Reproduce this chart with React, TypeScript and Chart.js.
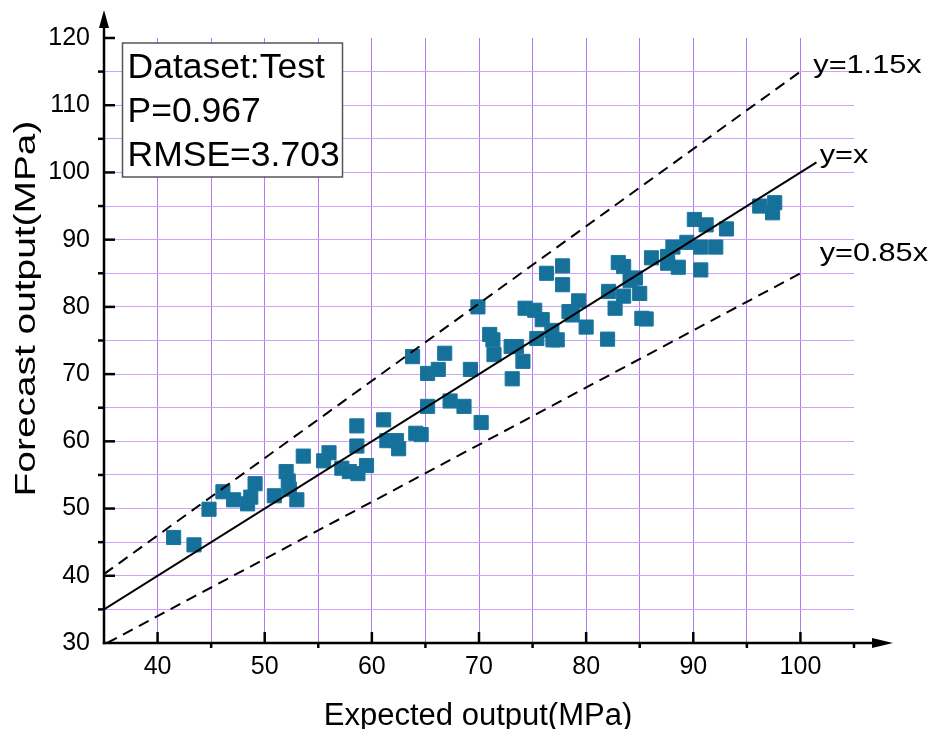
import React, { useEffect, useRef } from 'react';
import { Chart, registerables } from 'chart.js';

Chart.register(...registerables);

const FONT = '"Liberation Sans", Arial, sans-serif';

// Expected (x) and forecast (y) values of the test set
const expected = [
  41.5, 43.4, 44.8, 46.1, 47.1, 48.4, 48.7, 49.1, 50.9, 52.0,
  52.2, 52.3, 53.0, 53.6, 55.5, 56.0, 57.2, 57.9, 58.7, 59.5,
  58.6, 58.6, 61.1, 61.4, 62.3, 62.5, 63.8, 64.1, 64.6, 65.2,
  66.2, 65.2, 66.8, 67.3, 68.6, 69.2, 70.2, 69.9, 71.0, 71.3,
  71.4, 73.1, 73.0, 73.5, 74.1, 74.3, 75.2, 75.9, 75.4, 76.8,
  76.9, 77.3, 76.3, 77.8, 77.8, 78.4, 78.7, 79.3, 80.0, 82.0,
  82.1, 83.0, 83.5, 82.7, 83.5, 84.1, 84.6, 85.0, 85.2, 85.6,
  86.1, 87.6, 87.6, 88.1, 88.6, 89.4, 90.1, 91.2, 90.7, 90.7,
  92.1, 93.1, 96.2, 97.6, 97.4,
];
const forecast = [
  45.7, 44.6, 49.9, 52.5, 51.3, 50.7, 51.7, 53.7, 51.9, 55.5,
  54.1, 52.9, 51.3, 57.8, 57.1, 58.3, 56.0, 55.5, 55.2, 56.4,
  62.3, 59.3, 63.2, 60.1, 60.1, 58.9, 72.6, 61.2, 61.0, 70.1,
  70.7, 65.2, 73.1, 66.0, 65.2, 70.7, 62.8, 80.0, 75.9, 75.1,
  72.9, 69.3, 74.1, 74.1, 71.9, 79.8, 79.5, 78.1, 75.3, 76.5,
  75.1, 75.1, 85.0, 86.1, 83.3, 79.3, 78.8, 80.9, 77.0, 75.2,
  82.3, 86.6, 86.0, 79.8, 81.6, 83.9, 84.3, 82.0, 78.3, 78.2,
  87.3, 87.5, 86.5, 88.9, 85.9, 89.6, 93.0, 92.2, 88.9, 85.5,
  88.9, 91.6, 95.0, 95.5, 94.0,
];

// Reference lines (end points)
const lineUpperX = [35, 100];
const lineUpperY = [40.25, 115];
const lineIdX = [35, 101.5];
const lineIdY = [35, 101.5];
const lineLowerX = [35.29, 100];
const lineLowerY = [30, 85];

const lineLabels = ['y=1.15x', 'y=x', 'y=0.85x'];
const statsLines = ['Dataset:Test', 'P=0.967', 'RMSE=3.703'];

const xTickLabels = [40, 50, 60, 70, 80, 90, 100];
const yTickLabels = [30, 40, 50, 60, 70, 80, 90, 100, 110, 120];

const xTitle = 'Expected output(MPa)';
const yTitle = 'Forecast output(MPa)';

const toPts = (xs: number[], ys: number[]) => xs.map((v, i) => ({ x: v, y: ys[i] }));

const decorPlugin = {
  id: 'decor',
  afterDraw(chart: any) {
    const { ctx } = chart;
    const xs = chart.scales.x;
    const ys = chart.scales.y;
    const x0 = xs.getPixelForValue(35);
    const y0 = ys.getPixelForValue(30);
    ctx.save();
    ctx.strokeStyle = '#000';
    ctx.fillStyle = '#000';
    ctx.lineWidth = 2.5;
    ctx.lineCap = 'butt';
    // x axis + arrow
    const xEnd = xs.getPixelForValue(105) + 39;
    ctx.beginPath();
    ctx.moveTo(x0 - 1.2, y0);
    ctx.lineTo(xEnd - 18, y0);
    ctx.stroke();
    ctx.beginPath();
    ctx.moveTo(xEnd, y0);
    ctx.lineTo(xEnd - 21, y0 - 5);
    ctx.lineTo(xEnd - 21, y0 + 5);
    ctx.closePath();
    ctx.fill();
    // y axis + arrow
    const yEnd = ys.getPixelForValue(120) - 28;
    ctx.beginPath();
    ctx.moveTo(x0, y0 + 1.2);
    ctx.lineTo(x0, yEnd + 15);
    ctx.stroke();
    ctx.beginPath();
    ctx.moveTo(x0, yEnd);
    ctx.lineTo(x0 - 5, yEnd + 18);
    ctx.lineTo(x0 + 5, yEnd + 18);
    ctx.closePath();
    ctx.fill();
    // ticks
    ctx.lineWidth = 2.5;
    xs.ticks.forEach((t: any) => {
      const v = t.value;
      if (v <= 35) return;
      const px = xs.getPixelForValue(v);
      ctx.beginPath();
      if (v % 10 === 0) {
        ctx.moveTo(px, y0);
        ctx.lineTo(px, y0 - 11);
      } else {
        ctx.moveTo(px, y0);
        ctx.lineTo(px, y0 + 5);
      }
      ctx.stroke();
    });
    ys.ticks.forEach((t: any) => {
      const v = t.value;
      if (v <= 30) return;
      const py = ys.getPixelForValue(v);
      ctx.beginPath();
      if (v % 10 === 0) {
        ctx.moveTo(x0, py);
        ctx.lineTo(x0 + 11, py);
      } else {
        ctx.moveTo(x0, py);
        ctx.lineTo(x0 - 6, py);
      }
      ctx.stroke();
    });

    // stats box
    const bx = x0 + 18.5;
    const by = ys.getPixelForValue(120) + 5;
    ctx.fillStyle = '#fff';
    ctx.fillRect(bx, by, 220, 134);
    ctx.strokeStyle = '#555';
    ctx.lineWidth = 1.5;
    ctx.strokeRect(bx, by, 220, 134);
    ctx.fillStyle = '#000';
    ctx.font = `35.5px ${FONT}`;
    ctx.textAlign = 'left';
    ctx.textBaseline = 'alphabetic';
    statsLines.forEach((s, i) => ctx.fillText(s, bx + 5, by + 35 + i * 44));

    // line labels
    ctx.font = `26px ${FONT}`;
    const labelPos = [
      [xs.getPixelForValue(101.2), ys.getPixelForValue(114.8)],
      [xs.getPixelForValue(101.8), ys.getPixelForValue(101.4)],
      [xs.getPixelForValue(101.8), ys.getPixelForValue(86.9)],
    ];
    lineLabels.forEach((s, i) => {
      ctx.save();
      ctx.translate(labelPos[i][0], labelPos[i][1]);
      ctx.scale(1.18, 1);
      ctx.fillText(s, 0, 0);
      ctx.restore();
    });

    // axis titles
    ctx.textAlign = 'center';
    ctx.font = `31px ${FONT}`;
    ctx.fillText(xTitle, (xs.left + xs.right) / 2 - 1, 725);
    ctx.save();
    ctx.translate(35, 308.5);
    ctx.rotate(-Math.PI / 2);
    ctx.scale(1.34, 1);
    ctx.font = `29px ${FONT}`;
    ctx.fillText(yTitle, 0, 0);
    ctx.restore();
    ctx.restore();
  },
};

export default function App() {
  const ref = useRef<HTMLCanvasElement>(null);
  useEffect(() => {
    if (!ref.current) return;
    const chart = new Chart(ref.current, {
      type: 'scatter',
      data: {
        datasets: [
          {
            type: 'line',
            data: toPts(lineUpperX, lineUpperY),
            borderColor: '#000',
            borderWidth: 2,
            borderDash: [11, 7],
            pointRadius: 0,
            fill: false,
          } as any,
          {
            type: 'line',
            data: toPts(lineIdX, lineIdY),
            borderColor: '#000',
            borderWidth: 2,
            pointRadius: 0,
            fill: false,
          } as any,
          {
            type: 'line',
            data: toPts(lineLowerX, lineLowerY),
            borderColor: '#000',
            borderWidth: 2,
            borderDash: [11, 7],
            pointRadius: 0,
            fill: false,
          } as any,
          {
            type: 'scatter',
            data: toPts(expected, forecast),
            pointStyle: 'rect',
            pointRadius: 10,
            backgroundColor: '#15709a',
            borderColor: '#1a769f',
            borderWidth: 1,
          } as any,
        ],
      },
      options: {
        responsive: false,
        animation: false,
        events: [],
        layout: { padding: { left: 0, top: 38, right: 90, bottom: 0 } },
        plugins: { legend: { display: false }, tooltip: { enabled: false } },
        scales: {
          x: {
            type: 'linear',
            min: 35,
            max: 105,
            afterFit: (s: any) => { s.height = 86; },
            border: { display: false },
            grid: {
              drawTicks: false,
              lineWidth: 1,
              color: (c: any) => {
                const v = c.tick ? c.tick.value : 0;
                if (v <= 35 || v >= 105) return 'rgba(0,0,0,0)';
                return '#b47af5';
              },
            },
            ticks: {
              stepSize: 5,
              padding: 9,
              color: '#000',
              font: { family: FONT, size: 25 },
              maxRotation: 0,
              autoSkip: false,
              callback: (v: any) => (xTickLabels.includes(Number(v)) ? String(v) : ''),
            },
          },
          y: {
            type: 'linear',
            min: 30,
            max: 120,
            afterFit: (s: any) => { s.width = 104; },
            border: { display: false },
            grid: {
              drawTicks: false,
              lineWidth: 1,
              color: (c: any) => {
                const v = c.tick ? c.tick.value : 0;
                if (v <= 30 || v >= 120) return 'rgba(0,0,0,0)';
                return '#cfa3f9';
              },
            },
            ticks: {
              stepSize: 5,
              padding: 14,
              color: '#000',
              font: { family: FONT, size: 25 },
              autoSkip: false,
              callback: (v: any) => (yTickLabels.includes(Number(v)) ? String(v) : ''),
            },
          },
        },
      },
      plugins: [decorPlugin],
    });
    return () => chart.destroy();
  }, []);
  return (
    <div style={{ position: 'absolute', left: 0, top: 0, width: 944, height: 729, background: '#fff' }}>
      <canvas ref={ref} width={944} height={729} style={{ display: 'block' }} />
    </div>
  );
}
